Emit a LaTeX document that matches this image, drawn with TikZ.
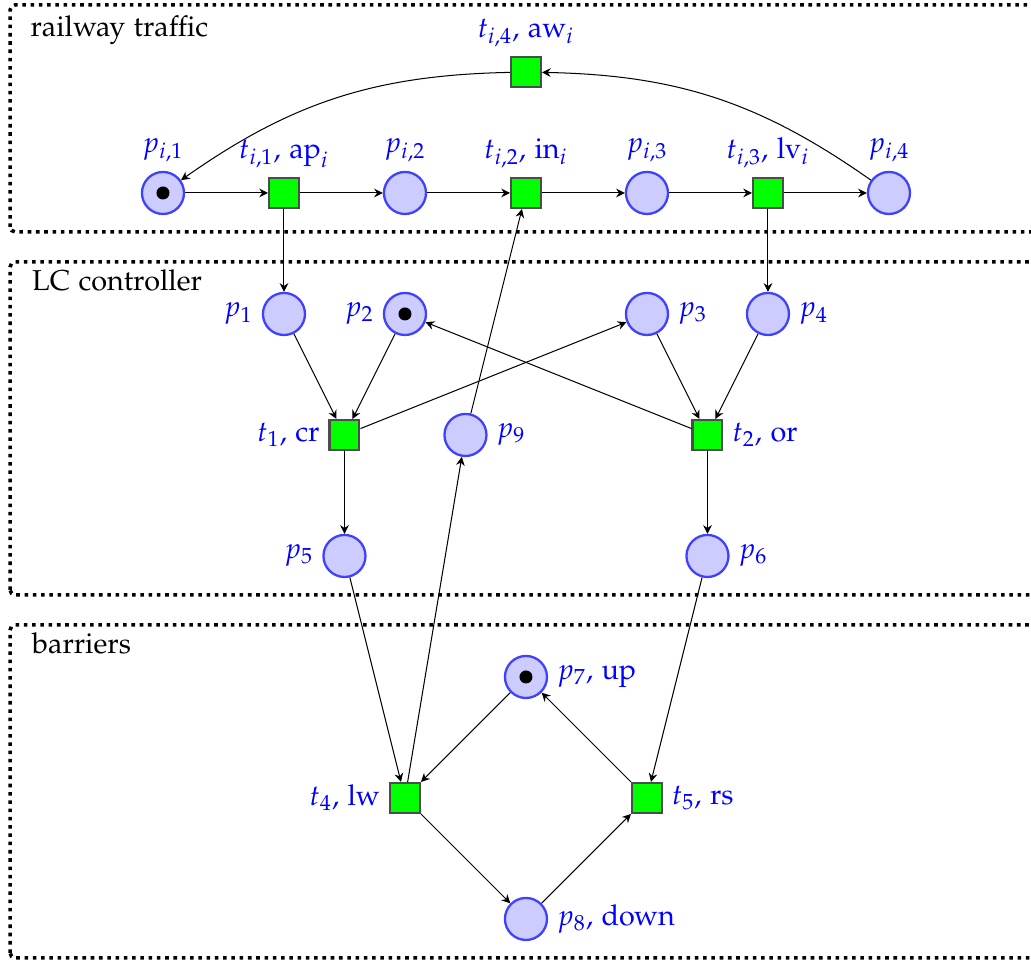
\documentclass[tikz,border=0pt]{standalone}
\usepackage[T1]{fontenc}
\usepackage[osf]{mathpazo}
\usetikzlibrary{arrows.meta}
\tikzset{
  place/.style={circle, draw=blue!75, fill=blue!20, line width=0.9pt,
    minimum size=5.8mm, inner sep=0pt},
  marked/.style={place, path picture={\fill[black] (path picture bounding box.center) circle (0.9mm);}},
  trans/.style={rectangle, draw=black!70, fill=green, line width=0.9pt,
    minimum size=4.1mm, inner sep=0pt},
  flow/.style={-{Stealth[length=1.2mm, width=1.2mm, inset=0.4mm]}, thin},
  group/.style={draw, line width=1.4pt, dash pattern=on 1.4pt off 1.85pt, rounded corners=2pt},
  grouplabel/.style={anchor=base west, inner sep=0pt},
  every label/.style={text=blue},
}

\begin{document}
\begin{tikzpicture}[x=1.67cm, y=1.67cm, font=\fontsize{11.3}{13.6}\selectfont]
  \useasboundingbox (-1.347,-6.339) rectangle (7.174,1.595);
  % groups
  \draw[group] (-1.264,-0.322) rectangle (7.6,1.554);
  \draw[group] (-1.264,-3.322) rectangle (7.6,-0.570);
  \draw[group] (-1.264,-6.322) rectangle (7.6,-3.570);
  \node[grouplabel] (railtxt) at (-1.099,1.29) {railway traffic};
  \node[grouplabel] (lctxt) at (-1.085,-0.81) {LC controller};
  \node[grouplabel] (bartxt) at (-1.085,-3.81) {barriers};
  % railway traffic
  \node[marked, label=above:$p_{i,1}$] (pi1) at (0,0) {};
  \node[trans, label=above:{$t_{i,1}$, $\mathrm{ap}_i$}] (ti1) at (1,0) {};
  \node[place, label=above:$p_{i,2}$] (pi2) at (2,0) {};
  \node[trans, label=above:{$t_{i,2}$, $\mathrm{in}_i$}] (ti2) at (3,0) {};
  \node[place, label=above:$p_{i,3}$] (pi3) at (4,0) {};
  \node[trans, label=above:{$t_{i,3}$, $\mathrm{lv}_i$}] (ti3) at (5,0) {};
  \node[place, label=above:$p_{i,4}$] (pi4) at (6,0) {};
  \node[trans, label=above:{$t_{i,4}$, $\mathrm{aw}_i$}] (ti4) at (3,1) {};
  % LC controller
  \node[place, label=left:$p_1$] (p1) at (1,-1) {};
  \node[marked, label=left:$p_2$] (p2) at (2,-1) {};
  \node[place, label=right:$p_3$] (p3) at (4,-1) {};
  \node[place, label=right:$p_4$] (p4) at (5,-1) {};
  \node[trans, label=left:{$t_1$, cr}] (t1) at (1.5,-2) {};
  \node[place, label=right:$p_9$] (p9) at (2.5,-2) {};
  \node[trans, label=right:{$t_2$, or}] (t2) at (4.5,-2) {};
  \node[place, label=left:$p_5$] (p5) at (1.5,-3) {};
  \node[place, label=right:$p_6$] (p6) at (4.5,-3) {};
  % barriers
  \node[marked, label=right:{$p_7$, up}] (p7) at (3,-4) {};
  \node[trans, label=left:{$t_4$, lw}] (t4) at (2,-5) {};
  \node[trans, label=right:{$t_5$, rs}] (t5) at (4,-5) {};
  \node[place, label=right:{$p_8$, down}] (p8) at (3,-6) {};
  % arcs
  \draw[flow] (pi1) -- (ti1);
  \draw[flow] (ti1) -- (pi2);
  \draw[flow] (pi2) -- (ti2);
  \draw[flow] (ti2) -- (pi3);
  \draw[flow] (pi3) -- (ti3);
  \draw[flow] (ti3) -- (pi4);
  \draw[flow] (pi4) to[bend right=17] (ti4);
  \draw[flow] (ti4) to[bend right=17] (pi1);
  \draw[flow] (ti1) -- (p1);
  \draw[flow] (ti3) -- (p4);
  \draw[flow] (p9) -- (ti2);
  \draw[flow] (p1) -- (t1);
  \draw[flow] (p2) -- (t1);
  \draw[flow] (t1) -- (p3);
  \draw[flow] (p3) -- (t2);
  \draw[flow] (p4) -- (t2);
  \draw[flow] (t2) -- (p2);
  \draw[flow] (t1) -- (p5);
  \draw[flow] (t2) -- (p6);
  \draw[flow] (p5) -- (t4);
  \draw[flow] (t4) -- (p9);
  \draw[flow] (p6) -- (t5);
  \draw[flow] (p7) -- (t4);
  \draw[flow] (t4) -- (p8);
  \draw[flow] (p8) -- (t5);
  \draw[flow] (t5) -- (p7);
\end{tikzpicture}
\end{document}
